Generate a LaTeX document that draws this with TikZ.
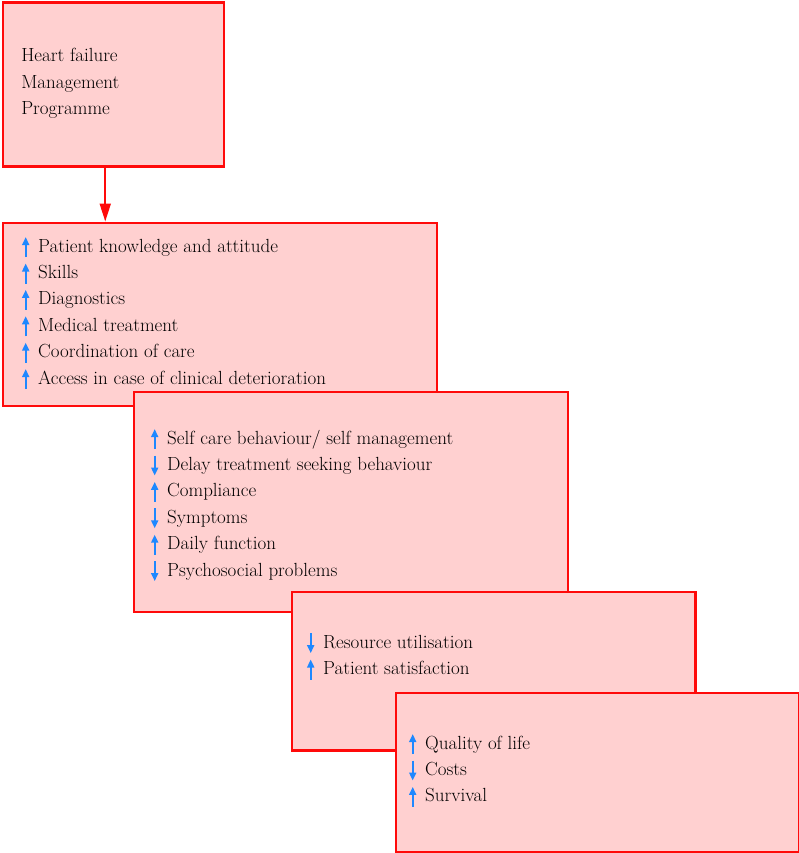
\documentclass[tikz,border=0pt]{standalone}
\usepackage{tikz}
\usetikzlibrary{arrows.meta,positioning,calc}

\definecolor{boxfill}{RGB}{255,208,208}
\definecolor{boxline}{RGB}{255,10,10}
\definecolor{iconblue}{RGB}{30,136,255}

\newcommand{\incr}{\tikz[baseline=0pt]\draw[iconblue,line width=1.8pt,-{Triangle[width=7pt,length=8pt]}] (0,-5pt) -- (0,15pt);\hspace{9pt}}
\newcommand{\decr}{\tikz[baseline=0pt]\draw[iconblue,line width=1.8pt,-{Triangle[width=7pt,length=8pt]}] (0,15pt) -- (0,-5pt);\hspace{9pt}}

\begin{document}
\begin{tikzpicture}[x=1pt, y=-1pt, semithick]
\tikzset{box/.style={draw=boxline,fill=boxfill,line width=2.5pt,rectangle,anchor=north west,inner sep=0pt},
         list/.style={align=left,inner sep=0pt,anchor=north west,font=\fontsize{19}{26.4}\selectfont},
         link/.style={draw=boxline,line width=2pt,-{Triangle[width=11pt,length=18pt]}}}
\useasboundingbox (0,0) rectangle (799,853);

\node[box, minimum width=221pt, minimum height=164pt]   (b1) at (1.5,1.5)     {};
\node[box, minimum width=434pt, minimum height=183pt]   (b2) at (1.5,221.5)   {};
\node[box, minimum width=434pt, minimum height=220pt]   (b3) at (132.5,390.5) {};
\node[box, minimum width=403.5pt, minimum height=158.5pt] (b4) at (290.5,590.5) {};
\node[box, minimum width=403pt, minimum height=159.5pt] (b5) at (394.5,691.5) {};

\node[list, below right=46.5pt and 19.5pt of b1.north west] (t1)
  {Heart failure\\ Management\\ Programme};
\node[list, below right=14.5pt and 20.5pt of b2.north west] (t2)
  {\incr Patient knowledge and attitude\\
   \incr Skills\\
   \incr Diagnostics\\
   \incr Medical treatment\\
   \incr Coordination of care\\
   \incr Access in case of clinical deterioration};
\node[list, below right=37.5pt and 18.5pt of b3.north west] (t3)
  {\incr Self care behaviour/ self management\\
   \decr Delay treatment seeking behaviour\\
   \incr Compliance\\
   \decr Symptoms\\
   \incr Daily function\\
   \decr Psychosocial problems};
\node[list, below right=41.5pt and 16.5pt of b4.north west] (t4)
  {\decr Resource utilisation\\
   \incr Patient satisfaction};
\node[list, below right=41.5pt and 14.5pt of b5.north west] (t5)
  {\incr Quality of life\\
   \decr Costs\\
   \incr Survival};

\draw[link] ([xshift=-8pt]b1.south) -- ([xshift=-8pt]b1.south |- b2.north);

\end{tikzpicture}
\end{document}
